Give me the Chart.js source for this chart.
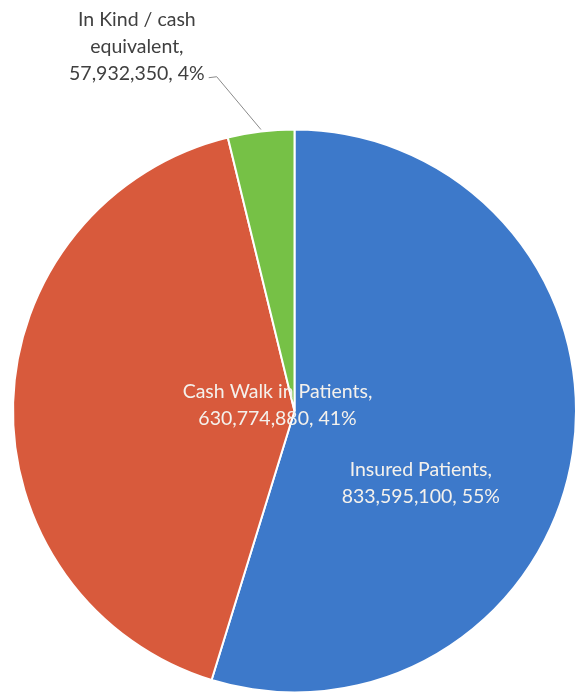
<!DOCTYPE html>
<html>
<head>
<meta charset="utf-8">
<script src="https://cdn.jsdelivr.net/npm/chart.js@4/dist/chart.umd.min.js"></script>
<style>
  html, body { margin: 0; padding: 0; background: #ffffff; }
  #wrap { width: 577px; height: 696px; }
</style>
</head>
<body>
<div id="wrap"><canvas id="c" width="577" height="696"></canvas></div>
<script>
// Revenue split by patient category
const categories = ['Insured Patients', 'Cash Walk in Patients', 'In Kind / cash equivalent'];
const amounts = [833595100, 630774880, 57932350];
const percentLabels = ['55%', '41%', '4%'];
const sliceColors = ['#3d79ca', '#d85a3c', '#76c146'];

// Label lines per slice (category text wrapped as shown)
const labelLines = [
  ['Insured Patients,', '833,595,100, 55%'],
  ['Cash Walk in Patients,', '630,774,880, 41%'],
  ['In Kind / cash', 'equivalent,', '57,932,350, 4%']
];
// Label anchor: angle (deg, clockwise from 12 o'clock) and distance as fraction of radius
const labelAngle = [119.6, 289.4, 336.6];
const labelRadius = [0.516, 0.064, 1.41];
const labelColor = ['#f4f1ec', '#f4f1ec', '#404040'];
const leader = [false, false, true];

const pieLabels = {
  id: 'pieLabels',
  afterDatasetsDraw(chart) {
    const ctx = chart.ctx;
    const meta = chart.getDatasetMeta(0);
    ctx.save();
    ctx.font = '19.5px Lato, "Open Sans", sans-serif';
    ctx.textAlign = 'center';
    ctx.textBaseline = 'middle';
    const lh = 27;
    meta.data.forEach((arc, i) => {
      const p = arc.getProps(['x', 'y', 'outerRadius', 'startAngle', 'endAngle'], true);
      const a = (labelAngle[i] - 90) * Math.PI / 180;
      const r = p.outerRadius * labelRadius[i];
      const cx = p.x + Math.cos(a) * r;
      const cy = p.y + Math.sin(a) * r;
      const lines = labelLines[i];
      const top = cy - (lines.length - 1) * lh / 2;
      ctx.fillStyle = labelColor[i];
      lines.forEach((t, k) => ctx.fillText(t, cx, top + k * lh));
      if (leader[i]) {
        const last = lines[lines.length - 1];
        const w = ctx.measureText(last).width;
        const y0 = top + (lines.length - 1) * lh + 4;
        const x0 = cx + w / 2 + 4;
        const mid = (p.startAngle + p.endAngle) / 2;
        const ex = p.x + Math.cos(mid) * p.outerRadius;
        const ey = p.y + Math.sin(mid) * p.outerRadius;
        ctx.strokeStyle = '#8a8a8a';
        ctx.lineWidth = 1;
        ctx.beginPath();
        ctx.moveTo(x0, y0);
        ctx.lineTo(x0 + 8, y0 - 1);
        ctx.lineTo(ex, ey - 2);
        ctx.stroke();
      }
    });
    ctx.restore();
  }
};

new Chart(document.getElementById('c'), {
  type: 'pie',
  data: {
    labels: categories,
    datasets: [{
      data: amounts,
      backgroundColor: sliceColors,
      borderColor: '#ffffff',
      borderWidth: 2
    }]
  },
  options: {
    responsive: false,
    animation: false,
    layout: { padding: { left: 12, right: 0, top: 128, bottom: 2 } },
    plugins: {
      legend: { display: false },
      tooltip: { enabled: false }
    }
  },
  plugins: [pieLabels]
});
</script>
</body>
</html>
